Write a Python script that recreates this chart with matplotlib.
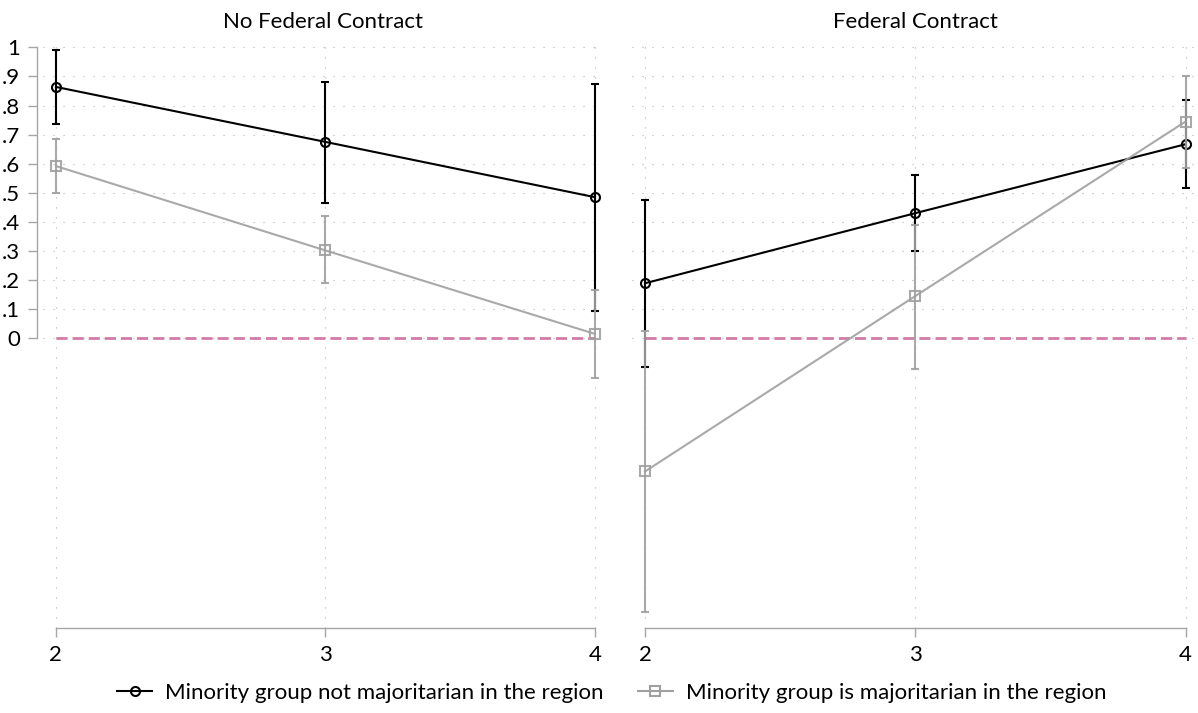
import numpy as np
import matplotlib
matplotlib.use('Agg')
import matplotlib.pyplot as plt
from matplotlib.lines import Line2D

plt.rcParams['font.family'] = ['Lato', 'DejaVu Sans']

# data
x = [2, 3, 4]
panels = ['No Federal Contract', 'Federal Contract']
labels = ['Minority group not majoritarian in the region',
          'Minority group is majoritarian in the region']

# not majoritarian (black)
nm_est = {'No Federal Contract': [0.864, 0.675, 0.485], 'Federal Contract': [0.189, 0.430, 0.667]}
nm_lo = {'No Federal Contract': [0.736, 0.466, 0.095], 'Federal Contract': [-0.098, 0.299, 0.518]}
nm_hi = {'No Federal Contract': [0.992, 0.881, 0.873], 'Federal Contract': [0.475, 0.560, 0.819]}

# majoritarian (gray)
mj_est = {'No Federal Contract': [0.592, 0.302, 0.015], 'Federal Contract': [-0.458, 0.145, 0.745]}
mj_lo = {'No Federal Contract': [0.498, 0.189, -0.136], 'Federal Contract': [-0.940, -0.105, 0.587]}
mj_hi = {'No Federal Contract': [0.685, 0.420, 0.166], 'Federal Contract': [0.025, 0.389, 0.903]}

yticks = np.round(np.arange(0, 1.01, 0.1), 1)
ytick_labels = ['0', '.1', '.2', '.3', '.4', '.5', '.6', '.7', '.8', '.9', '1']

BLACK = '#000000'
GRAY = '#a0a0a0'
AXIS = '#a6a6a6'
GRID = '#b4b4b4'
PINK = '#d17ca7'
FS = 16

fig = plt.figure(figsize=(11.98, 7.13), dpi=100)
ax_l = fig.add_axes([43/1198, 85/713, 560/1198, 585/713])
ax_r = fig.add_axes([632/1198, 85/713, 566/1198, 585/713])

for ax, name in zip([ax_l, ax_r], panels):
    ax.set_xlim(1.952, 4.03 if ax is ax_l else 4.046)
    ax.set_ylim(-0.996, 1.015)
    ax.set_xticks(x)
    ax.set_yticks(yticks)
    ax.grid(True, color=GRID, linestyle=(0, (1, 8)), linewidth=0.8)
    ax.set_axisbelow(True)
    for s in ['top', 'right']:
        ax.spines[s].set_visible(False)
    ax.spines['bottom'].set_bounds(2, 4)
    ax.spines['bottom'].set_color(AXIS)
    ax.spines['bottom'].set_linewidth(1.0)
    ax.tick_params(axis='x', length=6.5, width=1.0, color=AXIS, labelsize=FS, pad=6)

    # zero reference line
    ax.plot([2, 4], [0, 0], color=PINK, linewidth=2.0, dashes=(4, 1.8), zorder=2)

    ax.errorbar(x, nm_est[name],
                yerr=[np.array(nm_est[name]) - np.array(nm_lo[name]),
                      np.array(nm_hi[name]) - np.array(nm_est[name])],
                color=BLACK, linewidth=1.5, elinewidth=1.5, capsize=3.2, capthick=1.5,
                marker='o', markersize=6.5, mfc='none', mec=BLACK, mew=1.5, zorder=3)
    ax.errorbar(x, mj_est[name],
                yerr=[np.array(mj_est[name]) - np.array(mj_lo[name]),
                      np.array(mj_hi[name]) - np.array(mj_est[name])],
                color=GRAY, linewidth=1.5, elinewidth=1.5, capsize=3.2, capthick=1.5,
                marker='s', markersize=6.5, mfc='none', mec=GRAY, mew=1.5, alpha=0.9, zorder=4)

    ax.set_title(name, fontsize=FS, pad=11)

ax_l.spines['left'].set_position(('outward', 4))
ax_l.spines['left'].set_bounds(0, 1)
ax_l.spines['left'].set_color(AXIS)
ax_l.spines['left'].set_linewidth(1.0)
ax_l.set_yticklabels(ytick_labels)
ax_l.tick_params(axis='y', length=6.5, width=1.0, color=AXIS, labelsize=FS, pad=6)

ax_r.spines['left'].set_visible(False)
ax_r.tick_params(axis='y', length=0, labelleft=False)

handles = [Line2D([], [], color=BLACK, linewidth=1.5, marker='o', markersize=6.5, mfc='none', mew=1.5),
           Line2D([], [], color=GRAY, linewidth=1.5, marker='s', markersize=6.5, mfc='none', mew=1.5)]
fig.legend(handles, labels, loc='center', bbox_to_anchor=(612/1198, 1 - 693/713), ncol=2,
           frameon=False, fontsize=FS, handlelength=1.55, handletextpad=0.6, columnspacing=1.55)

fig.savefig('out.png', dpi=100)
